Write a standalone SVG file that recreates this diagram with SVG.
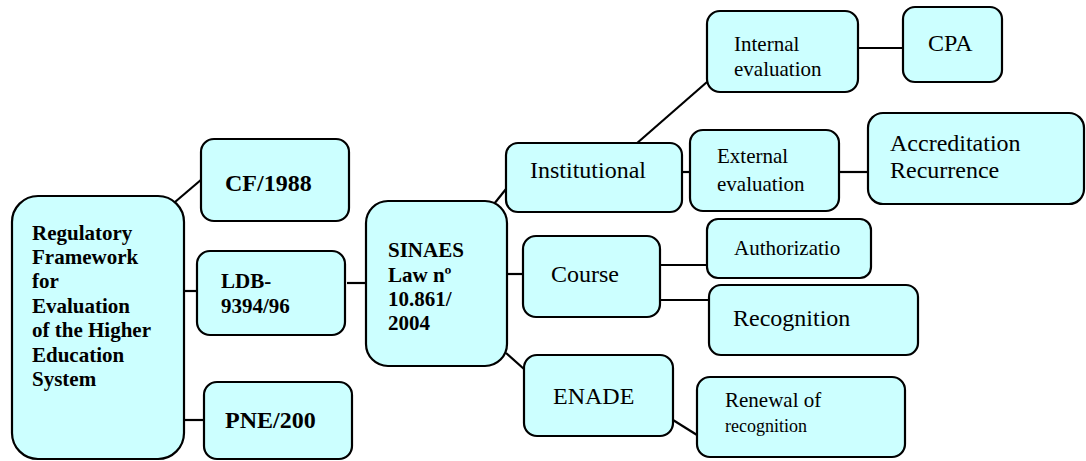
<svg xmlns="http://www.w3.org/2000/svg" width="1086" height="461" viewBox="0 0 1086 461">
<style>
.box{fill:#CCFFFF;stroke:#000;stroke-width:2.2}
text{font-family:'Liberation Serif','DejaVu Serif',serif;fill:#000}
.b{font-weight:bold;font-size:21px}
.r24{font-size:24px}
.r21{font-size:21px}
.c line{stroke:#000;stroke-width:2.2}
</style>
<rect width="1086" height="461" fill="#fff"/>
<g class="c" id="connectors">
<line x1="175" y1="202" x2="202" y2="179"/>
<line x1="182" y1="291" x2="197" y2="291"/>
<line x1="180" y1="420" x2="204" y2="420"/>
<line x1="347" y1="283" x2="366" y2="283"/>
<line x1="494" y1="204" x2="506" y2="189"/>
<line x1="506" y1="274" x2="523" y2="274"/>
<line x1="506" y1="353" x2="524" y2="369"/>
<line x1="636" y1="144" x2="707" y2="82"/>
<line x1="682" y1="172" x2="690" y2="172"/>
<line x1="858" y1="48" x2="903" y2="48"/>
<line x1="839" y1="172" x2="868" y2="172"/>
<line x1="660" y1="265" x2="708" y2="265"/>
<line x1="660" y1="300" x2="709" y2="300"/>
<line x1="673" y1="420" x2="697" y2="435"/>
</g>
<g id="regulatory" font-family="'Liberation Serif', serif">
<rect class="box" x="12" y="196" width="172" height="263" rx="26"/>
<text class="b" x="32" y="240">Regulatory</text>
<text class="b" x="32" y="264">Framework</text>
<text class="b" x="32" y="288">for</text>
<text class="b" x="32" y="313">Evaluation</text>
<text class="b" x="32" y="337">of the Higher</text>
<text class="b" x="32" y="362">Education</text>
<text class="b" x="32" y="386">System</text>
</g>
<g id="cf1988">
<rect class="box" x="201" y="139" width="148" height="82" rx="13"/>
<text x="225" y="191" font-size="24" font-weight="bold">CF/1988</text>
</g>
<g id="ldb">
<rect class="box" x="197" y="251" width="148" height="84" rx="13"/>
<text class="b" x="221" y="288">LDB-</text>
<text class="b" x="221" y="313">9394/96</text>
</g>
<g id="pne">
<rect class="box" x="204" y="382" width="148" height="77" rx="13"/>
<text x="225" y="428" font-size="24" font-weight="bold">PNE/200</text>
</g>
<g id="sinaes">
<rect class="box" x="366" y="201" width="141" height="165" rx="22"/>
<text class="b" x="388" y="257">SINAES</text>
<text class="b" x="388" y="282">Law nº</text>
<text class="b" x="388" y="306">10.861/</text>
<text class="b" x="388" y="330">2004</text>
</g>
<g id="institutional">
<rect class="box" x="506" y="143" width="176" height="69" rx="12"/>
<text class="r24" x="530" y="178">Institutional</text>
</g>
<g id="course">
<rect class="box" x="523" y="236" width="137" height="81" rx="13"/>
<text class="r24" x="551" y="282">Course</text>
</g>
<g id="enade">
<rect class="box" x="524" y="355" width="149" height="81" rx="13"/>
<text class="r24" x="553" y="404">ENADE</text>
</g>
<g id="internal">
<rect class="box" x="707" y="11" width="151" height="81" rx="13"/>
<text class="r21" x="734" y="51">Internal</text>
<text class="r21" x="734" y="76">evaluation</text>
</g>
<g id="cpa">
<rect class="box" x="903" y="7" width="99" height="75" rx="12"/>
<text class="r24" x="928" y="51">CPA</text>
</g>
<g id="external">
<rect class="box" x="690" y="130" width="149" height="81" rx="13"/>
<text class="r21" x="717" y="163">External</text>
<text class="r21" x="717" y="191">evaluation</text>
</g>
<g id="accreditation">
<rect class="box" x="868" y="113" width="216" height="91" rx="15"/>
<text class="r24" x="890" y="151">Accreditation</text>
<text class="r24" x="890" y="178">Recurrence</text>
</g>
<g id="authorization">
<rect class="box" x="707" y="219" width="164" height="59" rx="11"/>
<text class="r21" x="734" y="255">Authorizatio</text>
</g>
<g id="recognition">
<rect class="box" x="709" y="285" width="209" height="70" rx="12"/>
<text class="r24" x="733" y="326">Recognition</text>
</g>
<g id="renewal">
<rect class="box" x="697" y="377" width="208" height="80" rx="13"/>
<text class="r21" x="725" y="407">Renewal of</text>
<text x="725" y="432" font-size="18">recognition</text>
</g>
</svg>
